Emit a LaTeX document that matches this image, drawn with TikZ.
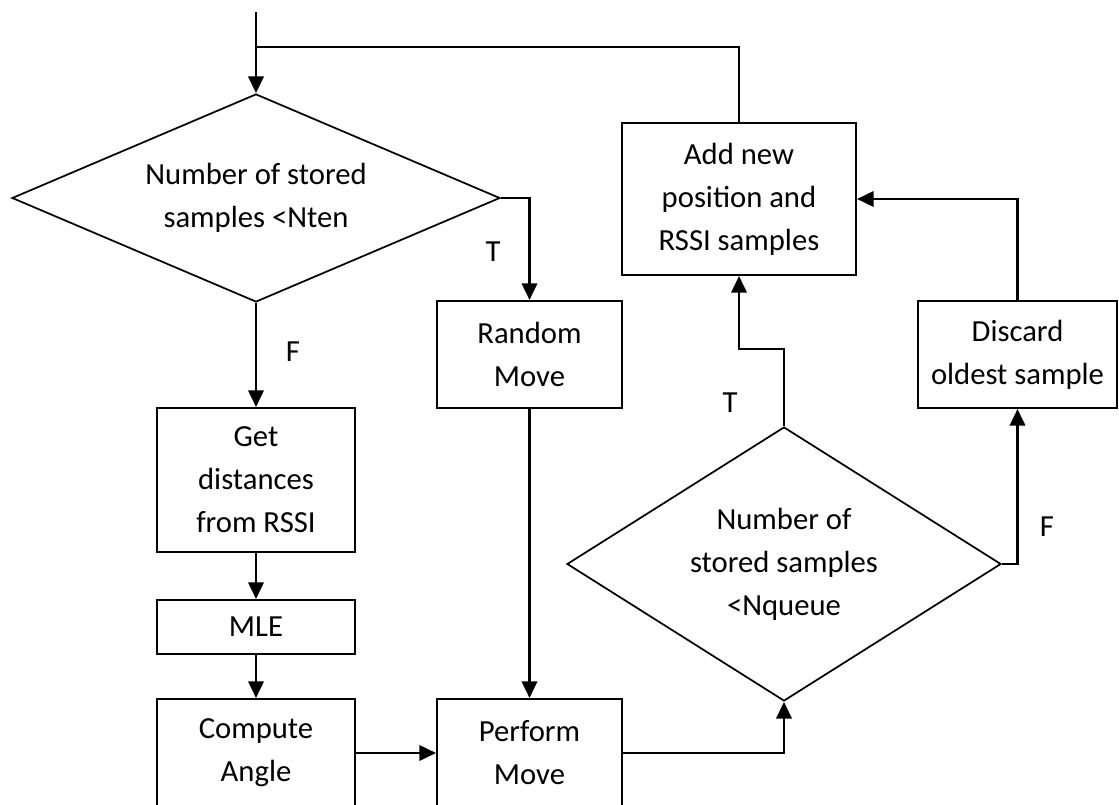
\documentclass[tikz,border=0pt]{standalone}
\usepackage{fontspec}
\setmainfont{Carlito}
\usetikzlibrary{shapes.geometric,arrows.meta}
\begin{document}
\begin{tikzpicture}[x=0.75pt,y=-0.75pt,
  every node/.style={font=\fontsize{23}{32.25}\selectfont},
  box/.style={draw, line width=1.5pt, rectangle, align=center, inner sep=0pt},
  dec/.style={draw, line width=1.3pt, diamond, inner sep=0pt},
  flow/.style={line width=2pt, -{Triangle[length=12.5pt,width=11.5pt]}},
  link/.style={line width=2pt},
  tag/.style={inner sep=0pt}]
\useasboundingbox (0,0) rectangle (1119,805);
\clip (0,0) rectangle (1119,805);

% decisions
\node[dec, minimum width=366pt, minimum height=156pt,
      label={[align=center]center:Number of stored\\samples <Nten}] (d1) at (256,198) {};
\node[dec, minimum width=325.5pt, minimum height=205.5pt,
      label={[align=center]center:Number of\\stored samples\\<Nqueue}] (d2) at (784,564) {};

% process boxes
\node[box, minimum width=148.5pt, minimum height=108pt] (get) at (256,480) {Get\\distances\\from RSSI};
\node[box, minimum width=148.5pt, minimum height=40.5pt] (mle) at (256,627) {MLE};
\node[box, minimum width=148.5pt, minimum height=81pt] (compute) at (256,753) {Compute\\Angle};
\node[box, minimum width=138.75pt, minimum height=80.25pt] (random) at (529.5,354.5) {Random\\Move};
\node[box, minimum width=138.75pt, minimum height=81pt] (perform) at (529.5,753) {Perform\\Move};
\node[box, minimum width=175.5pt, minimum height=114pt] (add) at (739,199) {Add new\\position and\\RSSI samples};
\node[box, minimum width=149.25pt, minimum height=80.25pt] (discard) at (1017.5,354.5) {Discard\\oldest sample};

% connectors
\coordinate (entry) at (256,12);
\coordinate (merge) at (256,47);
\draw[flow] (entry) -- (d1.north);
\draw[link] (add.north) |- (merge);
\draw[flow] (d1.east) -| (random.north);
\draw[flow] (d1.south) -- (get.north);
\draw[flow] (get.south) -- (mle.north);
\draw[flow] (mle.south) -- (compute.north);
\draw[flow] (compute.east) -- (perform.west);
\draw[flow] (random.south) -- (perform.north);
\draw[flow] (perform.east) -| (d2.south);
\draw[flow] (d2.north) -- ++(0,-77) -| (add.south);
\draw[flow] (d2.east) -| (discard.south);
\draw[flow] (discard.north) |- (add.east);

% branch labels
\node[tag] (t1) at (493,252) {T};
\node[tag] (f1) at (293,352) {F};
\node[tag] (t2) at (730,403) {T};
\node[tag] (f2) at (1047,527) {F};
\end{tikzpicture}
\end{document}
